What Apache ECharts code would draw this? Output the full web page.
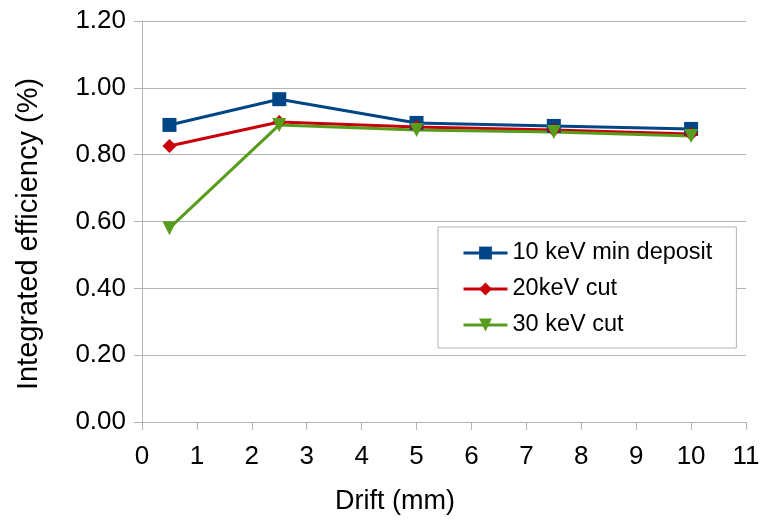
<!DOCTYPE html>
<html lang="en">
<head>
    <meta charset="UTF-8">
    <title>Integrated efficiency</title>
    <style>
        body { margin: 0; background: #fff; }
    </style>
</head>
<body>
<div id="main" style="width: 764px;height:520px;"></div>
<script src="https://cdn.jsdelivr.net/npm/echarts@6/dist/echarts.min.js"></script>
<script>
    var drift = [0.5, 2.5, 5, 7.5, 10];
    var min10 = [0.889, 0.966, 0.895, 0.886, 0.877];
    var cut20 = [0.826, 0.898, 0.883, 0.874, 0.862];
    var cut30 = [0.580, 0.889, 0.874, 0.868, 0.856];
    var seriesNames = ['10 keV min deposit', '20keV cut', '30 keV cut'];

    function pairs(ys) {
        return drift.map(function (x, i) { return [x, ys[i]]; });
    }

    var chart = echarts.init(document.getElementById('main'));
    var font = 'Liberation Sans, Arial, sans-serif';

    var option = {
        animation: false,
        grid: { left: 142, right: 18, top: 21, bottom: 98 },
        legend: {
            orient: 'vertical',
            left: 438,
            top: 227,
            padding: [14, 24, 11, 24],
            itemGap: 12,
            itemWidth: 44,
            itemHeight: 16,
            backgroundColor: '#fff',
            borderColor: '#b3b3b3',
            borderWidth: 1,
            borderRadius: 0,
            lineStyle: { width: 3 },
            textStyle: { fontFamily: font, fontSize: 23.5, color: '#000' },
            data: seriesNames
        },
        xAxis: {
            type: 'value',
            min: 0, max: 11, interval: 1,
            name: 'Drift (mm)',
            nameLocation: 'middle',
            nameGap: 66,
            nameTextStyle: { fontFamily: font, fontSize: 27, color: '#000', padding: [0, 98, 0, 0] },
            axisLine: { lineStyle: { color: '#b3b3b3' } },
            axisTick: { show: true, length: 8, lineStyle: { color: '#b3b3b3' } },
            axisLabel: { fontFamily: font, fontSize: 26, color: '#000', margin: 22 },
            splitLine: { show: false }
        },
        yAxis: {
            type: 'value',
            min: 0, max: 1.2, interval: 0.2,
            name: 'Integrated efficiency (%)',
            nameLocation: 'middle',
            nameGap: 99,
            nameTextStyle: { fontFamily: font, fontSize: 29, color: '#000', padding: [0, 25, 0, 0] },
            axisLine: { show: true, lineStyle: { color: '#b3b3b3' } },
            axisTick: { show: true, length: 8, lineStyle: { color: '#b3b3b3' } },
            axisLabel: {
                fontFamily: font, fontSize: 26, color: '#000', margin: 16,
                formatter: function (v) { return v.toFixed(2); }
            },
            splitLine: { lineStyle: { color: '#b3b3b3' } }
        },
        series: [
            {
                name: seriesNames[0],
                type: 'line',
                data: pairs(min10),
                symbol: 'rect',
                symbolSize: 14,
                itemStyle: { color: '#004586' },
                lineStyle: { color: '#004586', width: 3 }
            },
            {
                name: seriesNames[1],
                type: 'line',
                data: pairs(cut20),
                symbol: 'diamond',
                symbolSize: 14,
                itemStyle: { color: '#c9000b' },
                lineStyle: { color: '#c9000b', width: 3 }
            },
            {
                name: seriesNames[2],
                type: 'line',
                data: pairs(cut30),
                symbol: 'triangle',
                symbolRotate: 180,
                symbolSize: 14,
                itemStyle: { color: '#579d1c' },
                lineStyle: { color: '#579d1c', width: 3 }
            }
        ]
    };

    chart.setOption(option);
</script>
</body>
</html>
